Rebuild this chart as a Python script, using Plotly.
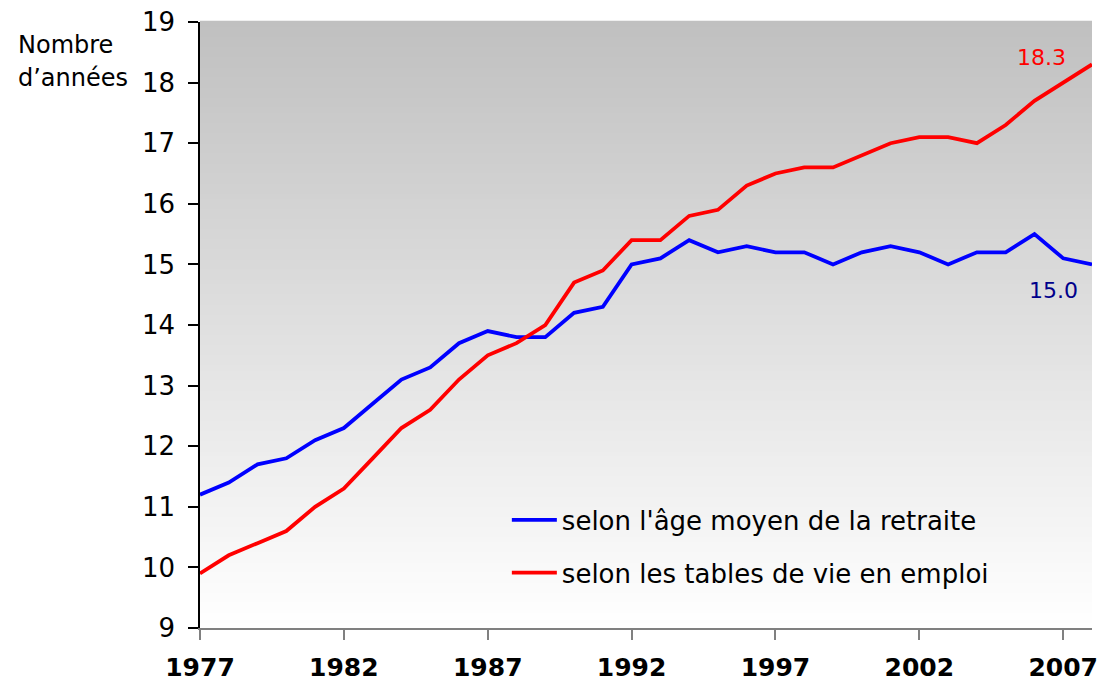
import plotly.graph_objects as go

years = list(range(1977, 2009))
age_moyen = [11.2, 11.4, 11.7, 11.8, 12.1, 12.3, 12.7, 13.1, 13.3, 13.7, 13.9, 13.8, 13.8, 14.2, 14.3, 15.0,
             15.1, 15.4, 15.2, 15.3, 15.2, 15.2, 15.0, 15.2, 15.3, 15.2, 15.0, 15.2, 15.2, 15.5, 15.1, 15.0]
tables_vie = [9.9, 10.2, 10.4, 10.6, 11.0, 11.3, 11.8, 12.3, 12.6, 13.1, 13.5, 13.7, 14.0, 14.7, 14.9, 15.4,
              15.4, 15.8, 15.9, 16.3, 16.5, 16.6, 16.6, 16.8, 17.0, 17.1, 17.1, 17.0, 17.3, 17.7, 18.0, 18.3]
series_names = ["selon l'âge moyen de la retraite", "selon les tables de vie en emploi"]
x_ticks = [1977, 1982, 1987, 1992, 1997, 2002, 2007]
y_ticks = list(range(9, 20))

FONT = "DejaVu Sans"

fig = go.Figure()
fig.add_trace(go.Scatter(x=years, y=age_moyen, mode="lines", name=series_names[0],
                         line=dict(color="#0000ff", width=3.8), legendgroup="a"))
fig.add_trace(go.Scatter(x=years, y=tables_vie, mode="lines", name=series_names[1],
                         line=dict(color="#ff0000", width=3.8), legendgroup="b"))

# vertical gradient background (grey at top -> white at bottom)
n = 120
shapes = []
for i in range(n):
    t = i / (n - 1)  # 0 bottom -> 1 top
    v = round(255 - (255 - 192) * t)
    col = f"rgb({v},{v},{v})"
    shapes.append(dict(type="rect", xref="paper", yref="paper", x0=0, x1=1,
                       y0=i / n, y1=(i + 1) / n + 0.002, fillcolor=col,
                       line=dict(width=0), layer="below"))

fig.update_layout(
    width=1111, height=684,
    margin=dict(l=200, r=19, t=22, b=56, autoexpand=False),
    paper_bgcolor="white", plot_bgcolor="white",
    shapes=shapes,
    showlegend=True,
    legend=dict(x=0.344, y=0.217, xanchor="left", yanchor="top",
                bgcolor="rgba(0,0,0,0)", font=dict(family=FONT, size=26, color="black"),
                tracegroupgap=16, itemwidth=45),
    xaxis=dict(range=[1977, 2008], tickvals=x_ticks, showgrid=False, zeroline=False,
               showline=True, linecolor="#808080", linewidth=1.5, automargin=False,
               ticks="outside", ticklen=10, tickcolor="#808080", tickwidth=1.5,
               tickfont=dict(family=FONT, size=25, color="black", weight="bold"),
               ticklabelstandoff=6),
    yaxis=dict(range=[9, 19], tickvals=y_ticks, showgrid=False, zeroline=False,
               showline=True, linecolor="black", linewidth=1.5, automargin=False,
               ticks="outside", ticklen=10, tickcolor="black", tickwidth=1.5,
               tickfont=dict(family=FONT, size=26, color="black"),
               ticklabelstandoff=8),
    annotations=[
        dict(text="Nombre", xref="paper", yref="paper", x=-0.206, y=0.962,
             xanchor="left", yanchor="middle", showarrow=False, align="left",
             font=dict(family=FONT, size=24, color="black")),
        dict(text="d’années", xref="paper", yref="paper", x=-0.206, y=0.9076,
             xanchor="left", yanchor="middle", showarrow=False, align="left",
             font=dict(family=FONT, size=24, color="black")),
        dict(text="18.3", x=years[-1] - 1.75, y=tables_vie[-1] + 0.12, xref="x", yref="y",
             showarrow=False, font=dict(family=FONT, size=22, color="#ff0000")),
        dict(text="15.0", x=years[-1] - 1.35, y=age_moyen[-1] - 0.43, xref="x", yref="y",
             showarrow=False, font=dict(family=FONT, size=22, color="#00008b")),
    ],
)

fig.write_html("out.html", config={"displayModeBar": False},
               post_script="document.body.style.margin='0';")
